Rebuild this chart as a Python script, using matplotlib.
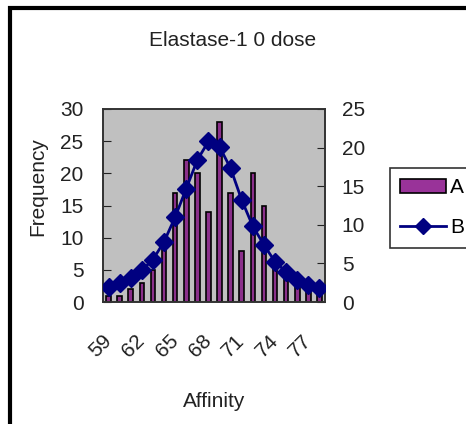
import matplotlib
matplotlib.use("Agg")
import matplotlib.pyplot as plt
from matplotlib.patches import Patch, Rectangle
from matplotlib.lines import Line2D
import numpy as np

categories = [str(v) for v in range(59, 79)]
series_a = [1, 1, 2, 3, 5, 9, 17, 22, 20, 14, 28, 17, 8, 20, 15, 6, 4, 3, 2, 2]
series_b = [2.0, 2.4, 3.1, 4.1, 5.5, 7.8, 11.0, 14.7, 18.4, 20.8, 20.1, 17.3,
            13.2, 9.8, 7.4, 5.2, 3.9, 2.8, 2.2, 1.8]
left_ticks = [0, 5, 10, 15, 20, 25, 30]
right_ticks = [0, 5, 10, 15, 20, 25]
title = "Elastase-1 0 dose"

plt.rcParams['font.family'] = ['Liberation Sans', 'DejaVu Sans']
FS = 15
TXT = '#222222'

fig = plt.figure(figsize=(4.66, 4.24), dpi=100)
ax = fig.add_axes([103/466, 1 - 302/424, 222/466, 193/424])
ax.set_facecolor('#C0C0C0')
x = np.arange(len(categories))
ax.bar(x, series_a, width=0.42, color='#8a2f8a', edgecolor='black', linewidth=1.2, zorder=2)
ax.set_xlim(-0.5, len(categories) - 0.5)
ax.set_ylim(0, 30)
ax.set_yticks(left_ticks)
ax.tick_params(axis='y', direction='in', length=6, pad=14, labelsize=FS, colors=TXT)
ax.set_xticks(x[::3])
ax.set_xticklabels(categories[::3], rotation=45, ha='right', va='center',
                   rotation_mode='anchor', fontsize=FS, color=TXT)
ax.tick_params(axis='x', length=0, pad=26)
ax.set_xlabel('Affinity', fontsize=FS, color=TXT, labelpad=22)
ax.set_ylabel('Frequency', fontsize=FS, color=TXT)
ax.yaxis.set_label_coords(-0.25, 0.6)
for s in ax.spines.values():
    s.set_color('#333333')
    s.set_linewidth(1.2)

ax2 = ax.twinx()
ax2.plot(x, series_b, color='#000080', linewidth=2, marker='D', markersize=9,
         markerfacecolor='#000080', markeredgecolor='#000080', zorder=3)
ax2.set_ylim(0, 25)
ax2.set_yticks(right_ticks)
ax2.tick_params(axis='y', direction='in', length=6, pad=12, labelsize=FS, colors=TXT)
for s in ax2.spines.values():
    s.set_color('#333333')
    s.set_linewidth(1.2)

fig.text(233/466, 1 - 40/424, title, ha='center', va='center', fontsize=FS, color=TXT)

handles = [Patch(facecolor='#993399', edgecolor='black', linewidth=1.2),
           Line2D([0], [0], color='#000080', linewidth=2, marker='D', markersize=8)]
leg = fig.legend(handles, ['A', 'B'], loc='upper left', bbox_to_anchor=(390/466, 1 - 168/424),
                 frameon=True, fancybox=False, edgecolor='black', fontsize=FS,
                 borderaxespad=0, handlelength=2.2, labelspacing=1.0, borderpad=0.5,
                 handletextpad=0.2)
leg.get_frame().set_linewidth(1.2)

# outer chart frame
fig.patches.append(Rectangle((10/466, -0.01), 1.0, 1 - 8/424 + 0.01, transform=fig.transFigure,
                             fill=False, edgecolor='black', linewidth=3))

fig.savefig('out.png', dpi=100)
